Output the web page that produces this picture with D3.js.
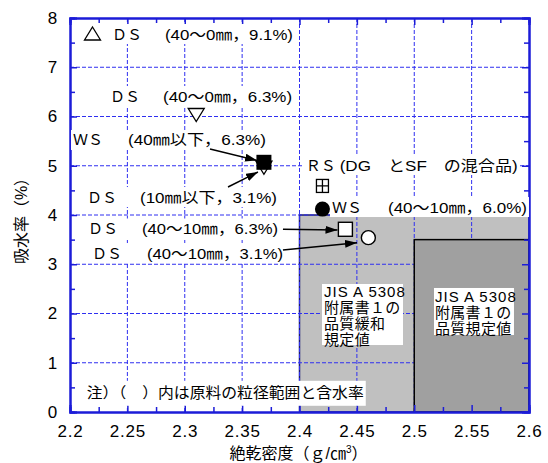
<!DOCTYPE html>
<html>
<head>
<meta charset="utf-8">
<script src="https://cdn.jsdelivr.net/npm/d3@7"></script>
<style>
  body { margin: 0; background: #fff; }
  svg { display: block; }
  text { font-family: "Liberation Sans", "Noto Sans CJK JP", sans-serif; fill: #000; }
</style>
</head>
<body>
<svg id="chart" width="548" height="463"></svg>
<script>
// ---- axis ticks ----
const xMajorTicks = [2.2, 2.25, 2.3, 2.35, 2.4, 2.45, 2.5, 2.55, 2.6];
const xTickLabels = ["2.2", "2.25", "2.3", "2.35", "2.4", "2.45", "2.5", "2.55", "2.6"];
const xMinorTicks = [2.225, 2.275, 2.325, 2.375, 2.425, 2.475, 2.525, 2.575];
const yMajorTicks = [0, 1, 2, 3, 4, 5, 6, 7, 8];
const yTickLabels = ["0", "1", "2", "3", "4", "5", "6", "7", "8"];
const yMinorTicks = [0.5, 1.5, 2.5, 3.5, 4.5, 5.5, 6.5, 7.5];

// ---- measured samples: oven-dry density (g/cm3) vs water absorption (%) ----
const sampleIds = ["DS 40-0 6.3", "WS 40below 6.3", "DS 10below 3.1", "RS", "WS 40-10 6.0", "DS 40-10 6.3", "DS 40-10 3.1"];
const densityValues = [2.310, 2.369, 2.369, 2.420, 2.420, 2.440, 2.460];
const absorptionValues = [6.03, 5.07, 4.96, 4.59, 4.12, 3.71, 3.54];
const sampleShapes = ["triangleDown", "squareFilled", "triangleDown", "squareCross", "circleFilled", "squareOpen", "circleOpen"];

// ---- JIS A 5308 annex 1 requirement zones ----
const relaxedDensityRange = [2.4, 2.6];
const relaxedAbsorptionRange = [0, 4];
const standardDensityRange = [2.5, 2.6];
const standardAbsorptionRange = [0, 3.5];

// ---- annotation texts ----
const labelNames = ["ＤＳ", "ＤＳ", "ＷＳ", "ＤＳ", "ＲＳ", "ＷＳ", "ＤＳ", "ＤＳ"];
const labelDetails = ["(40～0㎜，9.1%)", "(40～0㎜，6.3%)", "(40㎜以下，6.3%)", "(10㎜以下，3.1%)",
                      "(DG　とSF　の混合品)", "(40～10㎜，6.0%)", "(40～10㎜，6.3%)", "(40～10㎜，3.1%)"];
const noteText = "注）（　）内は原料の粒径範囲と含水率";
const relaxedZoneLines = ["JIS A 5308", "附属書１の", "品質緩和", "規定値"];
const standardZoneLines = ["JIS A 5308", "附属書１の", "品質規定値"];

// ---- annotation layout (anchors in chart units, offsets in px) ----
const labelLayout = [
  { x: 2.2366, y: 7.675, dx: 53, w: 128, key: -19.5 },
  { x: 2.2349, y: 6.416, dx: 53, w: 129 },
  { x: 2.2026, y: 5.523, dx: 55, w: 138 },
  { x: 2.2148, y: 4.365, dx: 53, w: 137 },
  { x: 2.4054, y: 5.015, dx: 34, w: 178 },
  { x: 2.4283, y: 4.162, dx: 56, w: 139 },
  { x: 2.2157, y: 3.726, dx: 54, w: 136 },
  { x: 2.2192, y: 3.228, dx: 55, w: 136 }
];
const arrowLayout = [
  { from: [2.322, 5.34], to: [2.363, 5.107] },
  { from: [2.3377, 4.569], to: [2.3638, 4.873] },
  { from: [2.3856, 3.710], to: [2.4331, 3.695] },
  { from: [2.3856, 3.289], to: [2.4501, 3.438] }
];

const svg = d3.select("#chart");
const x = d3.scaleLinear().domain([2.2, 2.6]).range([70, 529]);
const y = d3.scaleLinear().domain([0, 8]).range([412, 18]);
const axisColor = "#1c1cd8";
const gridColor = "#2f2ff0";

// requirement zones (light: relaxed, dark: standard)
svg.append("rect")
  .attr("x", x(relaxedDensityRange[0])).attr("y", y(relaxedAbsorptionRange[1]))
  .attr("width", x(relaxedDensityRange[1]) - x(relaxedDensityRange[0]))
  .attr("height", y(relaxedAbsorptionRange[0]) - y(relaxedAbsorptionRange[1]))
  .attr("fill", "#c0c0c0").attr("stroke", "#1a1a70").attr("stroke-width", 1.5);

// dashed grid
const grid = svg.append("g").attr("stroke", gridColor).attr("stroke-width", 1).attr("stroke-dasharray", "4,2");
grid.selectAll(".gx").data(xMajorTicks.slice(1, -1)).join("line")
  .attr("x1", d => x(d)).attr("x2", d => x(d)).attr("y1", y(0)).attr("y2", y(8));
grid.selectAll(".gy").data(yMajorTicks.slice(1, -1)).join("line")
  .attr("x1", x(2.2)).attr("x2", x(2.6)).attr("y1", d => y(d)).attr("y2", d => y(d));

svg.append("rect")
  .attr("x", x(standardDensityRange[0])).attr("y", y(standardAbsorptionRange[1]))
  .attr("width", x(standardDensityRange[1]) - x(standardDensityRange[0]))
  .attr("height", y(standardAbsorptionRange[0]) - y(standardAbsorptionRange[1]))
  .attr("fill", "#a0a0a0").attr("stroke", "#000").attr("stroke-width", 1.5);

// axes: major + minor ticks on all four sides, pointing inward
function styleAxis(g) {
  g.select(".domain").attr("stroke", axisColor).attr("stroke-width", 2);
  g.selectAll(".tick line").attr("stroke", axisColor).attr("stroke-width", 1.5);
  g.selectAll(".tick text").style("font-size", "17px").style("letter-spacing", "0.8px")
    .attr("fill", "#000").style("font-family", "'Liberation Sans', sans-serif");
}
const fmt = (arr, labels) => d => labels[arr.indexOf(d)];
svg.append("g").attr("transform", `translate(0,${y(0)})`)
  .call(d3.axisBottom(x).tickValues(xMajorTicks).tickFormat(fmt(xMajorTicks, xTickLabels)).tickSize(-7).tickPadding(13))
  .call(styleAxis);
svg.append("g").attr("transform", `translate(0,${y(0)})`)
  .call(d3.axisBottom(x).tickValues(xMinorTicks).tickFormat("").tickSize(-5))
  .call(styleAxis);
svg.append("g").attr("transform", `translate(0,${y(8)})`)
  .call(d3.axisTop(x).tickValues(xMajorTicks).tickFormat("").tickSize(-7)).call(styleAxis);
svg.append("g").attr("transform", `translate(0,${y(8)})`)
  .call(d3.axisTop(x).tickValues(xMinorTicks).tickFormat("").tickSize(-5)).call(styleAxis);
svg.append("g").attr("transform", `translate(${x(2.2)},0)`)
  .call(d3.axisLeft(y).tickValues(yMajorTicks).tickFormat(fmt(yMajorTicks, yTickLabels)).tickSize(-7).tickPadding(12))
  .call(styleAxis);
svg.append("g").attr("transform", `translate(${x(2.2)},0)`)
  .call(d3.axisLeft(y).tickValues(yMinorTicks).tickFormat("").tickSize(-5)).call(styleAxis);
svg.append("g").attr("transform", `translate(${x(2.6)},0)`)
  .call(d3.axisRight(y).tickValues(yMajorTicks).tickFormat("").tickSize(-7)).call(styleAxis);
svg.append("g").attr("transform", `translate(${x(2.6)},0)`)
  .call(d3.axisRight(y).tickValues(yMinorTicks).tickFormat("").tickSize(-5)).call(styleAxis);

// axis titles
svg.append("text")
  .attr("transform", `translate(27,${(y(0) + y(8)) / 2 + 2}) rotate(-90)`)
  .attr("text-anchor", "middle").style("font-size", "16px")
  .text("吸水率（%）");
const xt = svg.append("text").attr("x", (x(2.2) + x(2.6)) / 2 - 1).attr("y", 459)
  .attr("text-anchor", "middle").style("font-size", "16px");
xt.append("tspan").text("絶乾密度（ｇ/㎝");
xt.append("tspan").attr("dy", -6).style("font-size", "10px").text("3");
xt.append("tspan").attr("dy", 6).text("）");

// marker shapes
const shapePaths = {
  triangleDown: "M-8,-6.5L8,-6.5L0,6.5Z",
  triangleUp: "M0,-6.5L8,6.5L-8,6.5Z"
};
function drawShape(g, shape) {
  if (shape === "triangleDown" || shape === "triangleUp") {
    g.append("path").attr("d", shapePaths[shape]).attr("fill", "#fff").attr("stroke", "#000").attr("stroke-width", 1.3);
  } else if (shape === "squareFilled") {
    g.append("rect").attr("x", -7.5).attr("y", -7.5).attr("width", 15).attr("height", 15).attr("fill", "#000");
  } else if (shape === "squareOpen") {
    g.append("rect").attr("x", -7).attr("y", -7).attr("width", 14).attr("height", 14)
      .attr("fill", "#fff").attr("stroke", "#000").attr("stroke-width", 1.4);
  } else if (shape === "squareCross") {
    g.append("rect").attr("x", -6).attr("y", -6.5).attr("width", 12).attr("height", 13)
      .attr("fill", "#fff").attr("stroke", "#000").attr("stroke-width", 1.3);
    g.append("path").attr("d", "M0,-6.5V6.5M-6,0H6").attr("stroke", "#000").attr("stroke-width", 1.3);
  } else if (shape === "circleFilled") {
    g.append("circle").attr("r", 7.5).attr("fill", "#000");
  } else if (shape === "circleOpen") {
    g.append("circle").attr("r", 7).attr("fill", "#fff").attr("stroke", "#000").attr("stroke-width", 1.4);
  }
}

// sample labels with white backing boxes
labelNames.forEach((name, i) => {
  const L = labelLayout[i];
  const lx = x(L.x), cy = y(L.y);
  const g = svg.append("g");
  const left = L.key !== undefined ? lx + L.key - 10 : lx - 2;
  g.append("rect").attr("x", left).attr("y", cy - 10)
    .attr("width", lx + L.dx + L.w + 2 - left).attr("height", 20).attr("fill", "#fff");
  if (L.key !== undefined) {
    const k = g.append("g").attr("transform", `translate(${lx + L.key},${cy - 0.5})`);
    drawShape(k, "triangleUp");
  }
  g.append("text").attr("x", lx).attr("y", cy + 5.5).style("font-size", "15px").text(name);
  g.append("text").attr("x", lx + L.dx).attr("y", cy + 5.5).style("font-size", "15px")
    .attr("textLength", L.w).attr("lengthAdjust", "spacingAndGlyphs")
    .style("white-space", "pre").text(labelDetails[i]);
});

// note label
{
  const nx = x(2.2146), cy = y(0.39);
  svg.append("rect").attr("x", nx - 3).attr("y", cy - 12).attr("width", 282).attr("height", 25).attr("fill", "#fff");
  svg.append("text").attr("x", nx).attr("y", cy + 5.5).style("font-size", "15px")
    .attr("textLength", 277).attr("lengthAdjust", "spacingAndGlyphs").style("white-space", "pre").text(noteText);
}

// zone captions
function zoneBox(x0, x1, yTop, yBot, lines, tx, firstCy) {
  svg.append("rect").attr("x", x(x0)).attr("y", y(yTop))
    .attr("width", x(x1) - x(x0)).attr("height", y(yBot) - y(yTop)).attr("fill", "#fff");
  lines.forEach((t, j) => {
    svg.append("text").attr("x", tx).attr("y", firstCy + j * 16 + 5.5)
      .style("font-size", "15px").style("letter-spacing", j === 0 ? "1px" : "0.3px").text(t);
  });
}
zoneBox(2.4196, 2.4902, 2.599, 1.360, relaxedZoneLines, x(2.4214), 291);
zoneBox(2.5172, 2.5869, 2.518, 1.563, standardZoneLines, x(2.5181), 296);

// arrows
const defs = svg.append("defs");
defs.append("marker").attr("id", "arrowHead").attr("viewBox", "0 0 12 8")
  .attr("refX", 12).attr("refY", 4).attr("markerWidth", 12).attr("markerHeight", 8)
  .attr("markerUnits", "userSpaceOnUse").attr("orient", "auto")
  .append("path").attr("d", "M0,0L12,4L0,8Z").attr("fill", "#000");
svg.selectAll(".arrow").data(arrowLayout).join("line")
  .attr("x1", d => x(d.from[0])).attr("y1", d => y(d.from[1]))
  .attr("x2", d => x(d.to[0])).attr("y2", d => y(d.to[1]))
  .attr("stroke", "#000").attr("stroke-width", 1.5).attr("marker-end", "url(#arrowHead)");

// sample markers (the small DS triangle sits under the filled WS square)
const order = [2, 1, 0, 3, 4, 5, 6];
order.forEach(i => {
  const g = svg.append("g").attr("transform", `translate(${x(densityValues[i])},${y(absorptionValues[i])})`)
    .attr("data-sample", sampleIds[i]);
  drawShape(g, sampleShapes[i]);
});
</script>
</body>
</html>
